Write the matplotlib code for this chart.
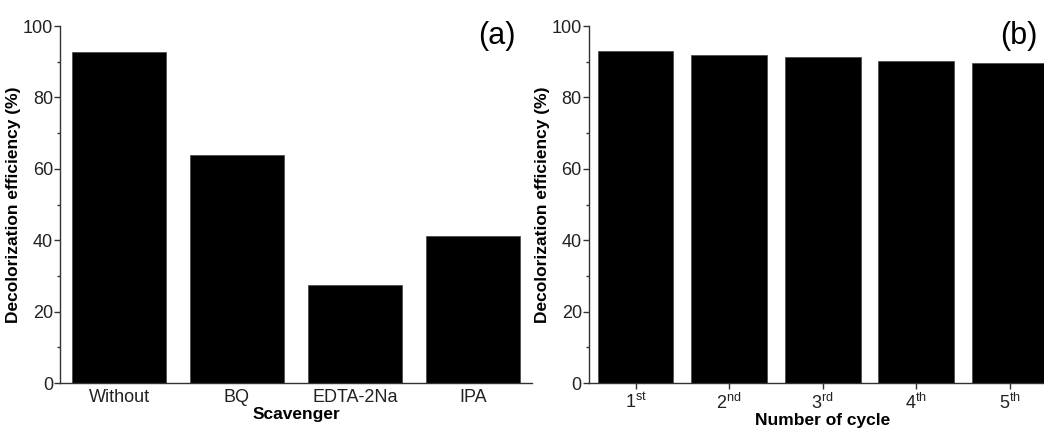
import matplotlib
matplotlib.use("Agg")
import matplotlib.pyplot as plt
from matplotlib.ticker import MultipleLocator

plt.rcParams['font.family'] = ['Liberation Sans', 'DejaVu Sans']
plt.rcParams['mathtext.default'] = 'regular'

# panel (a): scavenger test
scavengers = ['Without', 'BQ', 'EDTA-2Na', 'IPA']
eff_scav = [92.8, 63.8, 27.5, 41.2]

# panel (b): recycling test
cycles = ['1$^{st}$', '2$^{nd}$', '3$^{rd}$', '4$^{th}$', '5$^{th}$']
eff_cycle = [92.9, 91.8, 91.4, 90.2, 89.6]

fig = plt.figure(figsize=(10.44, 4.28), dpi=100)
ax1 = fig.add_axes([0.0575, 0.105, 0.452, 0.834])
ax2 = fig.add_axes([0.564, 0.105, 0.448, 0.834])


def style(ax):
    for s in ['top', 'right']:
        ax.spines[s].set_visible(False)
    for s in ['left', 'bottom']:
        ax.spines[s].set_color('#333333')
        ax.spines[s].set_linewidth(1.0)
    ax.set_ylim(0, 100)
    ax.yaxis.set_major_locator(MultipleLocator(20))
    ax.yaxis.set_minor_locator(MultipleLocator(10))
    ax.tick_params(axis='y', which='major', length=4, width=1, color='#333333',
                   labelsize=13, labelcolor='#222222', pad=1)
    ax.tick_params(axis='y', which='minor', length=2.5, width=1, color='#333333')
    ax.set_ylabel('Decolorization efficiency (%)', fontsize=12.5, fontweight='bold', labelpad=1)


style(ax1)
ax1.bar(range(len(scavengers)), eff_scav, width=0.8, color='black', edgecolor='#444444', linewidth=0.5)
ax1.set_xlim(-0.5, len(scavengers) - 0.5)
ax1.set_xticks(range(len(scavengers)))
ax1.set_xticklabels(scavengers)
ax1.tick_params(axis='x', length=0, labelsize=13, labelcolor='#222222', pad=4)
ax1.set_xlabel('Scavenger', fontsize=12.5, fontweight='bold', labelpad=1)
ax1.text(0.925, 0.972, '(a)', transform=ax1.transAxes, fontsize=22, ha='center', va='center')

style(ax2)
ax2.bar(range(len(cycles)), eff_cycle, width=0.81, color='black', edgecolor='#444444', linewidth=0.5)
ax2.set_xlim(-0.5, len(cycles) - 0.5)
ax2.set_xticks(range(len(cycles)))
ax2.set_xticklabels(cycles)
ax2.tick_params(axis='x', length=4, width=1, color='#333333', labelsize=13,
                labelcolor='#222222', pad=3)
ax2.set_xlabel('Number of cycle', fontsize=12.5, fontweight='bold', labelpad=0)
ax2.text(0.92, 0.972, '(b)', transform=ax2.transAxes, fontsize=22, ha='center', va='center')

fig.savefig('out.png', dpi=100)
